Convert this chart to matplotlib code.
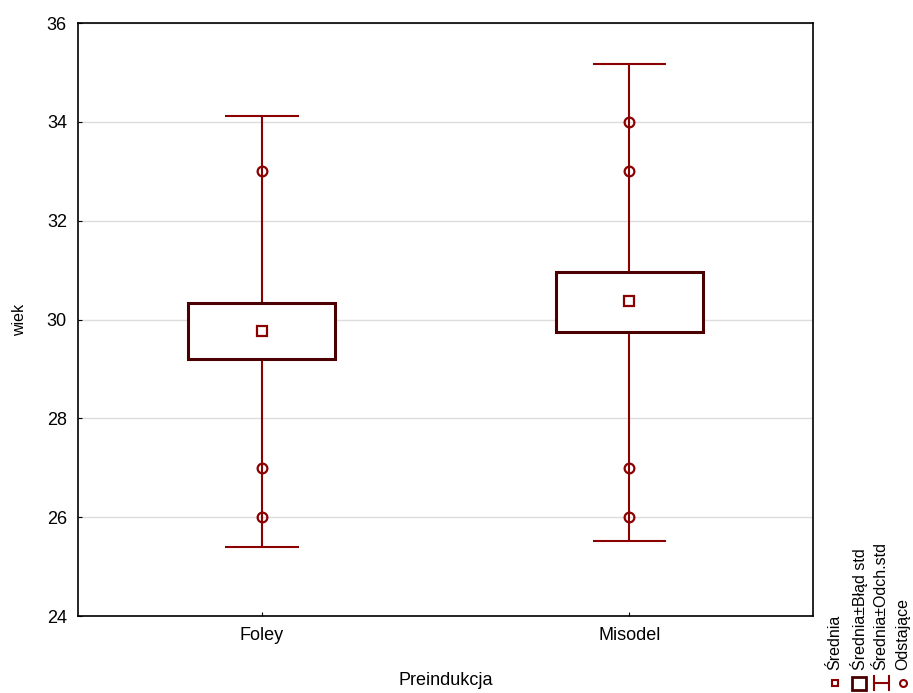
import numpy as np
import matplotlib
matplotlib.use("Agg")
import matplotlib.pyplot as plt
from matplotlib.lines import Line2D
from matplotlib.patches import Rectangle

# data
groups = ["Foley", "Misodel"]
means = [29.77, 30.37]
se_lo = [29.20, 29.75]
se_hi = [30.33, 30.96]
sd_lo = [25.40, 25.52]
sd_hi = [34.12, 35.17]
outliers = [[33, 27, 26], [34, 33, 27, 26]]
legend_labels = ["Średnia", "Średnia±Błąd std", "Średnia±Odch.std", "Odstające"]

BOX = "#4a0000"
RED = "#8b0000"

plt.rcParams["font.family"] = ["Liberation Sans", "DejaVu Sans"]
plt.rcParams["font.size"] = 13

fig = plt.figure(figsize=(9.13, 6.93), dpi=100)
ax = fig.add_axes([78 / 913, 1 - 616 / 693, 735 / 913, 593 / 693])

x = np.arange(len(groups))
ax.vlines(x, sd_lo, sd_hi, color=RED, lw=1.5, zorder=2)
ax.hlines(sd_lo, x - 0.1, x + 0.1, color=RED, lw=1.5, zorder=2)
ax.hlines(sd_hi, x - 0.1, x + 0.1, color=RED, lw=1.5, zorder=2)
for xi, lo, hi in zip(x, se_lo, se_hi):
    ax.add_patch(Rectangle((xi - 0.2, lo), 0.4, hi - lo, facecolor="white",
                           edgecolor=BOX, lw=2.2, zorder=3))
ax.plot(x, means, "s", ms=6.5, mfc="white", mec=RED, mew=1.6, zorder=4)
for xi, outs in zip(x, outliers):
    ax.plot([xi] * len(outs), outs, "o", ms=7, mfc="none", mec=RED,
            mew=1.6, zorder=4)

ax.set_xlim(-0.5, 1.5)
ax.set_ylim(24, 36)
ax.set_yticks(np.arange(24, 37, 2))
ax.set_xticks(x)
ax.set_xticklabels(groups)
ax.yaxis.grid(True, color="#dddddd", lw=1)
ax.set_axisbelow(True)
ax.tick_params(direction="in", length=3, color="black", pad=8)
for s in ax.spines.values():
    s.set_linewidth(1.2)
ax.set_xlabel("Preindukcja", labelpad=20)
ax.set_ylabel("wiek", labelpad=14, fontsize=11.5)

# legend at the lower right, rotated
xs = [835, 859, 881, 903]
for xp, lab in zip(xs, legend_labels):
    fig.text(xp / 913, 1 - 670 / 693, lab, rotation=90, ha="center",
             va="bottom", fontsize=11.5)
y0 = 1 - 683 / 693
fig.add_artist(Line2D([835 / 913], [y0], marker="s", ms=5, mfc="white",
                      mec=RED, mew=1.5, transform=fig.transFigure))
fig.add_artist(Rectangle((852 / 913, 1 - 690 / 693), 14 / 913, 13 / 693,
                         facecolor="white", edgecolor=BOX, lw=2,
                         transform=fig.transFigure))
fig.add_artist(Line2D([874 / 913, 889 / 913], [y0, y0], color=RED, lw=1.5,
                      transform=fig.transFigure))
for xp in (874, 889):
    fig.add_artist(Line2D([xp / 913, xp / 913], [1 - 690 / 693, 1 - 676 / 693],
                          color=RED, lw=1.5, transform=fig.transFigure))
fig.add_artist(Line2D([903 / 913], [y0], marker="o", ms=5, mfc="none",
                      mec=RED, mew=1.5, transform=fig.transFigure))

fig.savefig("out.png", dpi=100)
